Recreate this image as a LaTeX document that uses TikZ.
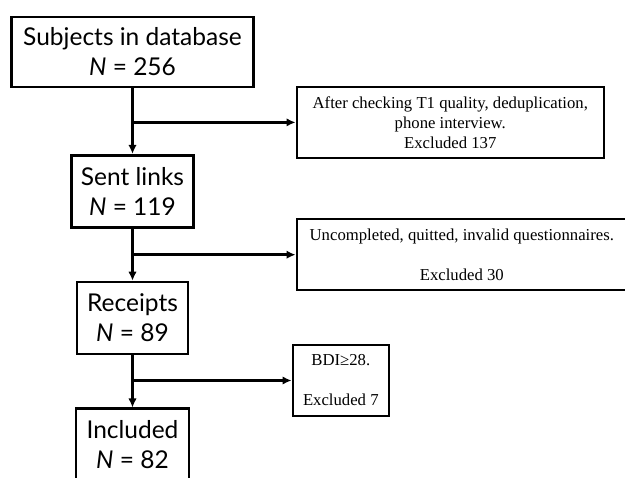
\documentclass[tikz,border=0pt]{standalone}
\usepackage{fontspec}
\setmainfont{Liberation Serif}
\newfontfamily\boxfont{Lato}
\usetikzlibrary{arrows.meta,positioning}

\begin{document}
\begin{tikzpicture}[
    x=1pt, y=1pt,
    stage/.style={draw, rectangle, line width=2.8pt, align=center, inner sep=2pt, font=\boxfont\fontsize{24.5}{30}\selectfont, minimum height=72pt},
    excl/.style={draw, rectangle, line width=2.6pt, align=center, inner sep=2pt, font=\fontsize{16.7}{20}\selectfont, minimum height=71pt},
    rel/.style={-{Latex[length=9pt,width=8.5pt]}, line width=2.8pt}
  ]
  \useasboundingbox (0,0) rectangle (625,478);
  \clip (0,0) rectangle (625,478);

  % Stages
  \node[stage, minimum width=242pt, minimum height=70pt] (Subjects) at (132.5,426) {Subjects in database\\\textit{N} = 256};
  \node[stage, minimum width=122pt, below=65.5pt of Subjects] (Sent) {Sent links\\\textit{N} = 119};
  \node[stage, minimum width=111pt, below=52pt of Sent] (Receipts) {Receipts\\\textit{N} = 89};
  \node[stage, minimum width=113pt, below=52pt of Receipts] (Included) {Included\\\textit{N} = 82};

  % Branch points
  \coordinate[below=34pt of Subjects] (b1);
  \coordinate[below=26pt of Sent] (b2);
  \coordinate[below=25pt of Receipts] (b3);

  % Exclusions
  \node[excl, minimum width=307pt, right=163pt of b1] (Excl1) {After checking T1 quality, deduplication,\\phone interview.\\Excluded 137};
  \node[excl, minimum width=330pt, right=163pt of b2] (Excl2) {Uncompleted, quitted, invalid questionnaires.\\[20pt]Excluded 30};
  \node[excl, minimum width=96pt, right=159pt of b3] (Excl3) {BDI≥28.\\[20pt]Excluded 7};

  % Flow
  \draw[rel] (Subjects) -- (Sent);
  \draw[rel] (Sent) -- (Receipts);
  \draw[rel] (Receipts) -- (Included);
  \draw[rel] (b1) -- (Excl1);
  \draw[rel] (b2) -- (Excl2);
  \draw[rel] (b3) -- (Excl3);
\end{tikzpicture}
\end{document}
